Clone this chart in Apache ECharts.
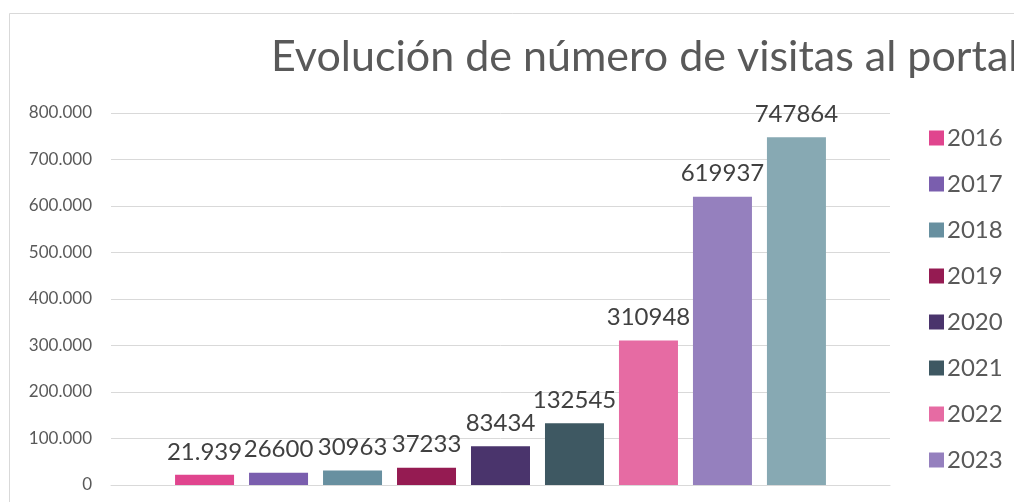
<!DOCTYPE html>
<html>
<head>
<meta charset="utf-8">
<script src="https://cdn.jsdelivr.net/npm/echarts@6/dist/echarts.min.js"></script>
<style>
html,body{margin:0;padding:0;background:#fff;}
#c{width:1014px;height:502px;}
</style>
</head>
<body>
<div id="c"></div>
<script>
const titleText = 'Evolución de número de visitas al portal';
const years = ['2016','2017','2018','2019','2020','2021','2022','2023','2024'];
const visits = [21939, 26600, 30963, 37233, 83434, 132545, 310948, 619937, 747864];
const labelTexts = ['21.939','26600','30963','37233','83434','132545','310948','619937','747864'];
const colors = ['#E0458E','#7A5EAE','#6890A0','#951B52','#4A346C','#3E5862','#E66BA3','#9580BE','#87A9B3'];
const yTicks = {min: 0, max: 800000, interval: 100000};

const FONT = 'Lato';
const chart = echarts.init(document.getElementById('c'), null, {renderer: 'canvas'});

const series = years.map((y, i) => ({
  name: y,
  type: 'bar',
  data: [visits[i]],
  barWidth: 59,
  barGap: '25.4%',
  itemStyle: {color: colors[i]},
  label: {
    show: true,
    position: 'top',
    distance: 11,
    formatter: () => labelTexts[i],
    fontFamily: FONT,
    fontSize: 24,
    color: '#404040'
  }
}));

chart.setOption({
  animation: false,
  backgroundColor: '#fff',
  graphic: [{
    type: 'rect',
    shape: {x: 9.5, y: 13.5, width: 1200, height: 700},
    style: {fill: 'none', stroke: '#d9d9d9', lineWidth: 1},
    silent: true, z: -1
  }],
  title: {
    text: titleText,
    left: 266,
    top: 31,
    textStyle: {fontFamily: FONT, fontSize: 43, fontWeight: 'normal', color: '#595959'}
  },
  grid: {left: 111, right: 124, top: 113, bottom: 17, containLabel: false},
  legend: {
    orient: 'vertical',
    left: 924,
    top: 121,
    itemWidth: 15,
    itemHeight: 15,
    itemGap: 22,
    icon: 'rect',
    textStyle: {fontFamily: FONT, fontSize: 24, color: '#595959', lineHeight: 24, padding: [0,0,0,-2]},
    data: years
  },
  xAxis: {
    type: 'category',
    data: [''],
    axisLine: {show: true, lineStyle: {color: '#d9d9d9', width: 1}},
    axisTick: {show: false},
    axisLabel: {show: false}
  },
  yAxis: {
    type: 'value',
    min: yTicks.min,
    max: yTicks.max,
    interval: yTicks.interval,
    axisLine: {show: false},
    axisTick: {show: false},
    splitLine: {lineStyle: {color: '#d9d9d9', width: 1}},
    axisLabel: {
      margin: 19,
      fontFamily: FONT,
      fontSize: 17,
      color: '#595959',
      formatter: v => v === 0 ? '0' : v.toLocaleString('de-DE')
    }
  },
  series: series
});
</script>
</body>
</html>
